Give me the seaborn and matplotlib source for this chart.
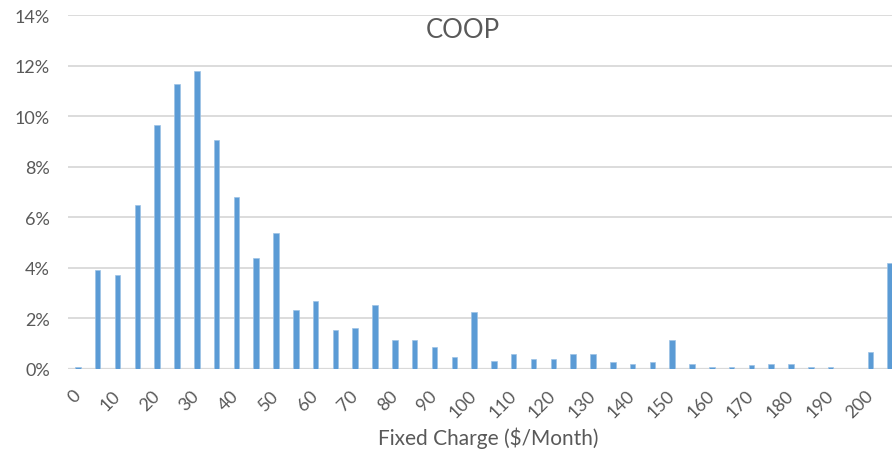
import numpy as np
import pandas as pd
import matplotlib
matplotlib.use("Agg")
import matplotlib.pyplot as plt
import seaborn as sns

# Fixed charge bins ($/month) and share of utilities in each bin
charge_bins = [str(v) for v in range(0, 205, 5)] + ["More"]
share_pct = [
    0.07, 3.92, 3.69, 6.47, 9.64, 11.26, 11.77, 9.04, 6.81, 4.39,
    5.38, 2.34, 2.69, 1.52, 1.60, 2.52, 1.13, 1.13, 0.86, 0.46,
    2.25, 0.29, 0.57, 0.38, 0.38, 0.57, 0.57, 0.25, 0.17, 0.25,
    1.13, 0.17, 0.08, 0.08, 0.13, 0.17, 0.17, 0.08, 0.08, 0.0,
    0.65, 4.19,
]
y_ticks = [0, 2, 4, 6, 8, 10, 12, 14]

df = pd.DataFrame({"bin": charge_bins, "share": np.array(share_pct) / 100.0})

sns.set_theme(style="white")
plt.rcParams["font.family"] = ["Lato", "DejaVu Sans"]

text_color = "#595959"
grid_color = "#d9d9d9"
bar_color = "#5b9bd5"

fig = plt.figure(figsize=(8.92, 4.52), dpi=100)
ax = fig.add_axes([68 / 892, 1 - 369.7 / 452, 832 / 892, (369.7 - 16) / 452])

sns.barplot(data=df, x="bin", y="share", color=bar_color, saturation=1,
            width=0.28, ax=ax, zorder=3, edgecolor="#9dc3e6", linewidth=0.5)

ax.set_xlim(-0.5, len(charge_bins) - 0.5)
ax.set_ylim(0, 0.14)
ax.set_yticks([t / 100 for t in y_ticks])
ax.set_yticklabels([f"{t}%" for t in y_ticks], color=text_color, fontsize=13)
ax.yaxis.grid(True, color=grid_color, linewidth=1.3, zorder=0)
ax.xaxis.grid(False)
for s in ax.spines.values():
    s.set_visible(False)
ax.axhline(0, color=grid_color, linewidth=1.6, zorder=2)

tick_pos = list(range(0, len(charge_bins), 2))
ax.set_xticks(tick_pos)
ax.set_xticklabels([charge_bins[i] for i in tick_pos], rotation=45,
                   ha="right", va="center", rotation_mode="anchor",
                   color=text_color, fontsize=13)
ax.tick_params(axis="x", length=0, pad=17)
ax.tick_params(axis="y", length=0, pad=13)

ax.set_xlabel("Fixed Charge ($/Month)", color=text_color, fontsize=15)
ax.xaxis.set_label_coords((488 - 68) / 832, -(428 - 369.7) / 353.7)
ax.set_ylabel("")

fig.text(463 / 892, 1 - 31 / 452, "COOP", ha="center", va="center",
         color=text_color, fontsize=18.5)

fig.savefig("out.png", dpi=100)
